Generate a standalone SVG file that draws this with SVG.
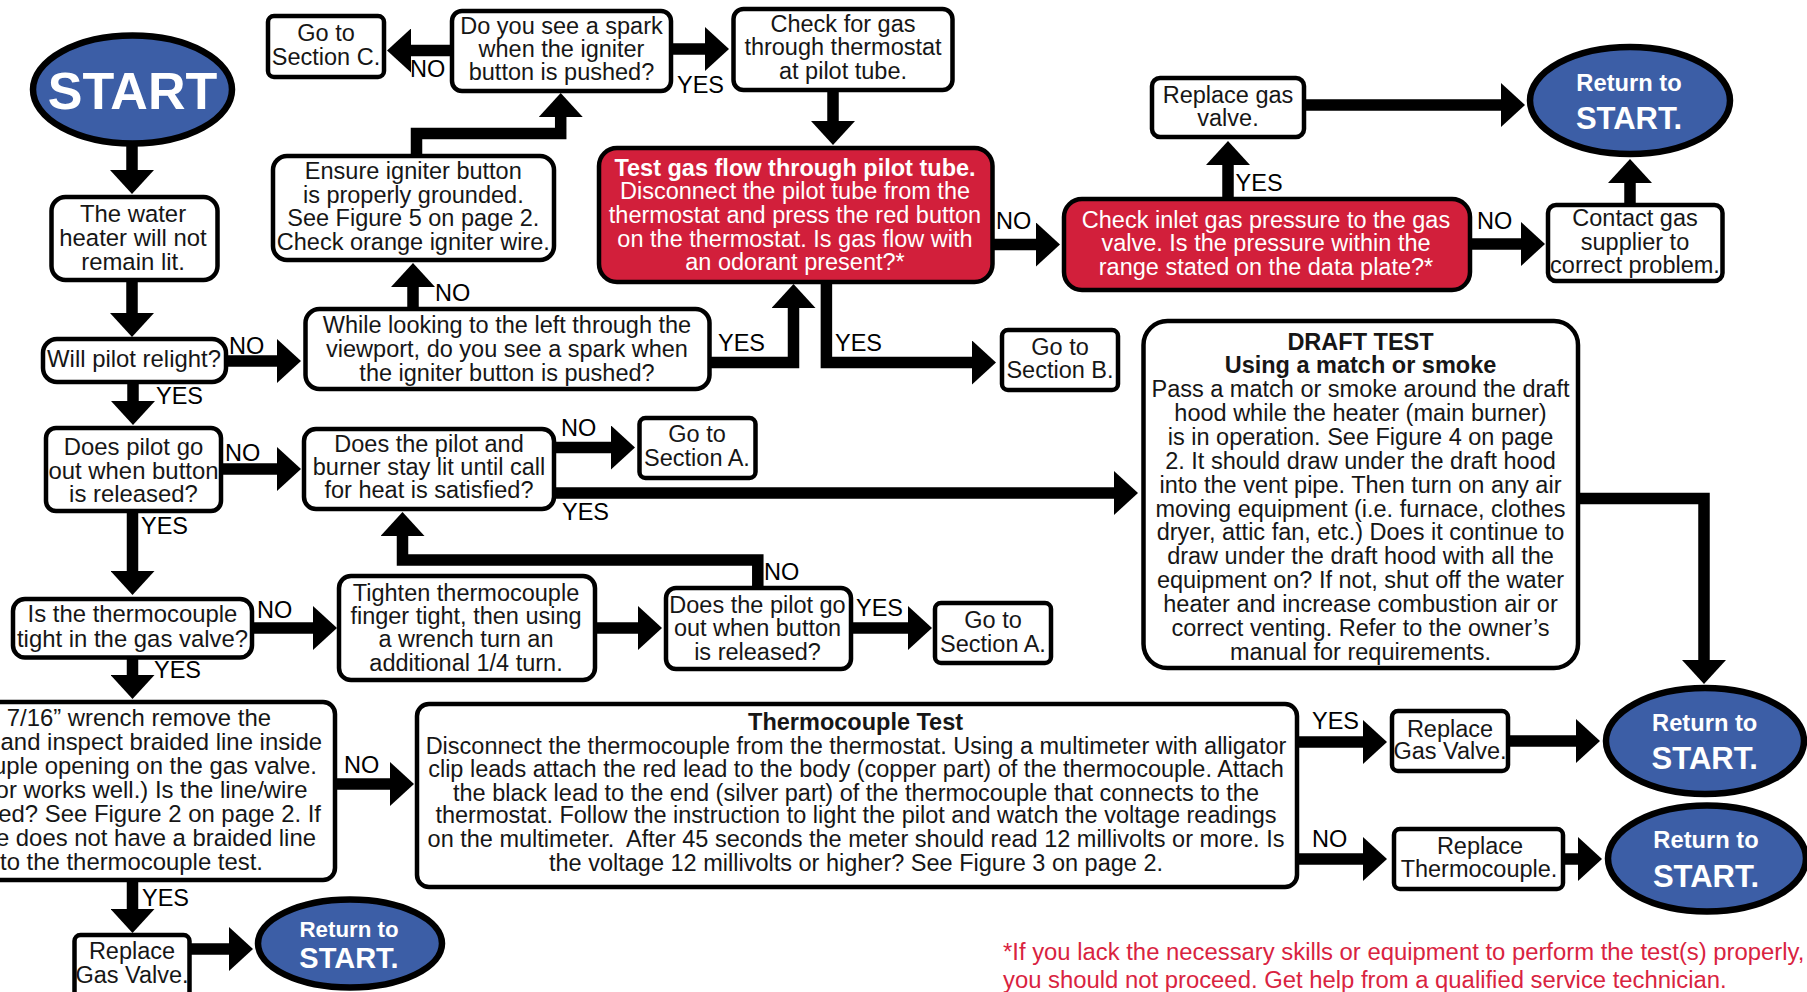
<svg xmlns="http://www.w3.org/2000/svg" width="1807" height="992" viewBox="0 0 1807 992">
<style>
text{font-family:"Liberation Sans",Arial,sans-serif;font-size:23.5px;fill:#161616;text-anchor:middle;white-space:pre;transform:translateY(.5px)}
.box{fill:#fff;stroke:#000;stroke-width:4.5}
.red{fill:#d21f3b;stroke:#000;stroke-width:4.5}
.oval{fill:#3c5ea6;stroke:#000;stroke-width:6.5}
.w{fill:#fff}
.bold{font-weight:bold}
.r{font-size:23.7px;font-weight:bold;fill:#fff}
.s{font-size:31px;font-weight:bold;fill:#fff}
.lab{text-anchor:start;fill:#000}
.end{text-anchor:end;font-size:23.9px}
.small{font-size:23.9px}
.note{text-anchor:start;fill:#d9233f;font-size:23.85px;transform:translateY(2px)}
.c path{fill:none;stroke:#000;stroke-width:11.5;stroke-linejoin:miter;marker-end:url(#a)}
</style>
<defs>
<marker id="a" markerUnits="userSpaceOnUse" viewBox="0 0 24 44" refX="1" refY="22" markerWidth="24" markerHeight="44" orient="auto"><path d="M0 0L24 22L0 44Z" fill="#000"/></marker>
</defs>
<rect width="1807" height="992" fill="#fff"/>
<g id="connectors" class="c">
<path d="M132 146V171"/>
<path d="M132 282V314"/>
<path d="M228 361H278"/>
<path d="M133 384V402"/>
<path d="M223 469H278"/>
<path d="M132.500 513V572"/>
<path d="M253 628H314"/>
<path d="M132.500 659V676"/>
<path d="M337 784H391"/>
<path d="M132.500 882V910"/>
<path d="M191 949H230"/>
<path d="M413 307V286"/>
<path d="M416.500 154V133.500H560.700V116"/>
<path d="M451 50.500H410"/>
<path d="M673 49H706"/>
<path d="M833 92V122"/>
<path d="M711 362.500H793.500V307"/>
<path d="M826.400 284V362.500H973"/>
<path d="M994 244.500H1037"/>
<path d="M1472 244H1522"/>
<path d="M1228 197V164"/>
<path d="M1306 105H1502"/>
<path d="M1630 203V182"/>
<path d="M555 447.500H612"/>
<path d="M555 493H1115"/>
<path d="M757.800 586V560H402.500V535"/>
<path d="M597 628H639"/>
<path d="M853 628H909"/>
<path d="M1580 498.500H1704V661"/>
<path d="M1299 742H1364"/>
<path d="M1299 859H1364"/>
<path d="M1510 741H1577"/>
<path d="M1565 859H1579"/>
</g>
<g id="connector-labels">
<text class="lab" x="229" y="353">NO</text>
<text class="lab" x="156" y="403">YES</text>
<text class="lab" x="225" y="460">NO</text>
<text class="lab" x="141" y="533">YES</text>
<text class="lab" x="257" y="617">NO</text>
<text class="lab" x="154" y="677">YES</text>
<text class="lab" x="344" y="772">NO</text>
<text class="lab" x="142" y="905">YES</text>
<text class="lab" x="435" y="300">NO</text>
<text class="lab" x="410" y="76">NO</text>
<text class="lab" x="677" y="92">YES</text>
<text class="lab" x="718" y="350">YES</text>
<text class="lab" x="835" y="350">YES</text>
<text class="lab" x="996" y="228">NO</text>
<text class="lab" x="1477" y="228">NO</text>
<text class="lab" x="1235.600" y="190">YES</text>
<text class="lab" x="561" y="435">NO</text>
<text class="lab" x="562" y="519">YES</text>
<text class="lab" x="764" y="579">NO</text>
<text class="lab" x="856" y="615">YES</text>
<text class="lab" x="1312" y="728">YES</text>
<text class="lab" x="1312" y="846">NO</text>
</g>
<g id="start"><ellipse class="oval" cx="132.500" cy="89.500" rx="99.500" ry="54"/><text class="bold w" x="132.500" y="108" style="font-size:52px">START</text></g>
<g id="water"><rect class="box" x="51.500" y="197" width="166" height="83" rx="14"/><text class="small"><tspan x="133" y="221">The water</tspan><tspan x="133" y="245">heater will not</tspan><tspan x="133" y="269">remain lit.</tspan></text></g>
<g id="relight"><rect class="box" x="43" y="339" width="183" height="43" rx="14"/><text class="small" x="134" y="366.700">Will pilot relight?</text></g>
<g id="pilot-out"><rect class="box" x="46" y="428" width="175" height="83" rx="10"/><text class="small"><tspan x="133.500" y="454">Does pilot go</tspan><tspan x="133.500" y="478">out when button</tspan><tspan x="133.500" y="501.700">is released?</tspan></text></g>
<g id="tight"><rect class="box" x="13" y="599" width="239" height="58.500" rx="12"/><text class="small"><tspan x="132.500" y="621.700">Is the thermocouple</tspan><tspan x="132.500" y="646">tight in the gas valve?</tspan></text></g>
<g id="braided"><rect class="box" x="-20" y="702" width="355" height="178" rx="12"/><text class="end"><tspan class="end" x="271" y="725">7/16” wrench remove the</tspan><tspan class="end" x="322" y="749">and inspect braided line inside</tspan><tspan class="end" x="317" y="773">uple opening on the gas valve.</tspan><tspan class="end" x="307.600" y="797">or works well.) Is the line/wire</tspan><tspan class="end" x="321" y="821">ed? See Figure 2 on page 2. If</tspan><tspan class="end" x="316" y="845">e does not have a braided line</tspan><tspan class="end" x="263" y="869">to the thermocouple test.</tspan></text></g>
<g id="replace-valve-1"><rect class="box" x="74.500" y="935" width="115" height="70" rx="6"/><text><tspan x="132" y="958">Replace</tspan><tspan x="132" y="982">Gas Valve.</tspan></text></g>
<g id="return-4"><ellipse class="oval" cx="350" cy="943.500" rx="92" ry="44"/><text class="r" x="349" y="936" style="font-size:22.300px">Return to</text><text class="s" x="349" y="967.700" style="font-size:29px">START.</text></g>
<g id="section-c"><rect class="box" x="268" y="16" width="116" height="61" rx="6"/><text><tspan x="326" y="40.700">Go to</tspan><tspan x="326" y="64">Section C.</tspan></text></g>
<g id="spark"><rect class="box" x="452" y="11" width="219" height="80" rx="10"/><text><tspan x="561.500" y="33">Do you see a spark</tspan><tspan x="561.500" y="56">when the igniter</tspan><tspan x="561.500" y="79">button is pushed?</tspan></text></g>
<g id="check-gas"><rect class="box" x="733.500" y="9" width="219" height="81" rx="10"/><text><tspan x="843" y="31">Check for gas</tspan><tspan x="843" y="54">through thermostat</tspan><tspan x="843" y="78">at pilot tube.</tspan></text></g>
<g id="ensure"><rect class="box" x="273" y="156" width="281" height="104" rx="14"/><text><tspan x="413.300" y="178">Ensure igniter button</tspan><tspan x="413.300" y="202.700">is properly grounded.</tspan><tspan x="413.300" y="225">See Figure 5 on page 2.</tspan><tspan x="413.300" y="249">Check orange igniter wire.</tspan></text></g>
<g id="looking"><rect class="box" x="305.500" y="309" width="404" height="80" rx="14"/><text><tspan x="507" y="332">While looking to the left through the</tspan><tspan x="507" y="356">viewport, do you see a spark when</tspan><tspan x="507" y="380">the igniter button is pushed?</tspan></text></g>
<g id="stay-lit"><rect class="box" x="304" y="429" width="250" height="80" rx="12"/><text><tspan x="429" y="451">Does the pilot and</tspan><tspan x="429" y="474">burner stay lit until call</tspan><tspan x="429" y="497">for heat is satisfied?</tspan></text></g>
<g id="tighten"><rect class="box" x="339" y="576" width="256" height="104" rx="12"/><text><tspan x="466" y="600">Tighten thermocouple</tspan><tspan x="466" y="623">finger tight, then using</tspan><tspan x="466" y="646.700">a wrench turn an</tspan><tspan x="466" y="670">additional 1/4 turn.</tspan></text></g>
<g id="pilot-out-2"><rect class="box" x="666" y="588" width="185" height="81" rx="10"/><text><tspan x="757.500" y="612">Does the pilot go</tspan><tspan x="757.500" y="635">out when button</tspan><tspan x="757.500" y="659">is released?</tspan></text></g>
<g id="section-a-1"><rect class="box" x="639.500" y="418" width="116" height="60" rx="6"/><text><tspan x="697" y="441.700">Go to</tspan><tspan x="697" y="465.700">Section A.</tspan></text></g>
<g id="section-a-2"><rect class="box" x="935" y="603" width="116" height="60" rx="6"/><text><tspan x="993" y="627.300">Go to</tspan><tspan x="993" y="651">Section A.</tspan></text></g>
<g id="section-b"><rect class="box" x="1002" y="330" width="116" height="60" rx="6"/><text><tspan x="1060" y="354">Go to</tspan><tspan x="1060" y="377">Section B.</tspan></text></g>
<g id="test-gas"><rect class="red" x="599" y="148" width="393.500" height="134" rx="18"/><text class="w"><tspan class="w bold" x="795" y="175">Test gas flow through pilot tube.</tspan><tspan class="w" x="795" y="198">Disconnect the pilot tube from the</tspan><tspan class="w" x="795" y="222">thermostat and press the red button</tspan><tspan class="w" x="795" y="246">on the thermostat. Is gas flow with</tspan><tspan class="w" x="795" y="269">an odorant present?*</tspan></text></g>
<g id="inlet"><rect class="red" x="1064" y="199" width="406" height="91" rx="18"/><text class="w"><tspan class="w" x="1266" y="227">Check inlet gas pressure to the gas</tspan><tspan class="w" x="1266" y="250.700">valve. Is the pressure within the</tspan><tspan class="w" x="1266" y="274">range stated on the data plate?*</tspan></text></g>
<g id="replace-gas"><rect class="box" x="1152" y="78" width="152" height="59" rx="8"/><text><tspan x="1228" y="102.700">Replace gas</tspan><tspan x="1228" y="125">valve.</tspan></text></g>
<g id="contact"><rect class="box" x="1548" y="205" width="174.500" height="76" rx="8"/><text><tspan x="1635" y="225">Contact gas</tspan><tspan x="1635" y="249">supplier to</tspan><tspan x="1635" y="272">correct problem.</tspan></text></g>
<g id="return-1"><ellipse class="oval" cx="1630" cy="100.500" rx="100" ry="53.500"/><text class="r" x="1629" y="90">Return to</text><text class="s" x="1629" y="128">START.</text></g>
<g id="draft"><rect class="box" x="1143.500" y="321" width="434.500" height="347" rx="24"/><text><tspan class="bold" x="1360.500" y="349">DRAFT TEST</tspan><tspan class="bold" x="1360.500" y="372.800">Using a match or smoke</tspan><tspan x="1360.500" y="396.600">Pass a match or smoke around the draft</tspan><tspan x="1360.500" y="420.500">hood while the heater (main burner)</tspan><tspan x="1360.500" y="444.400">is in operation. See Figure 4 on page</tspan><tspan x="1360.500" y="468.200">2. It should draw under the draft hood</tspan><tspan x="1360.500" y="492.100">into the vent pipe. Then turn on any air</tspan><tspan x="1360.500" y="516">moving equipment (i.e. furnace, clothes</tspan><tspan x="1360.500" y="539.800">dryer, attic fan, etc.) Does it continue to</tspan><tspan x="1360.500" y="563.700">draw under the draft hood with all the</tspan><tspan x="1360.500" y="587.600">equipment on? If not, shut off the water</tspan><tspan x="1360.500" y="611.500">heater and increase combustion air or</tspan><tspan x="1360.500" y="635.400">correct venting. Refer to the owner’s</tspan><tspan x="1360.500" y="659.300">manual for requirements.</tspan></text></g>
<g id="thermo-test"><rect class="box" x="417" y="704" width="880" height="183" rx="12"/><text><tspan class="bold" x="855.600" y="729">Thermocouple Test</tspan><tspan x="856" y="753">Disconnect the thermocouple from the thermostat. Using a multimeter with alligator</tspan><tspan x="856" y="776">clip leads attach the red lead to the body (copper part) of the thermocouple. Attach</tspan><tspan x="856" y="800">the black lead to the end (silver part) of the thermocouple that connects to the</tspan><tspan x="856" y="822.700">thermostat. Follow the instruction to light the pilot and watch the voltage readings</tspan><tspan x="856" y="846.700">on the multimeter.  After 45 seconds the meter should read 12 millivolts or more. Is</tspan><tspan x="856" y="870">the voltage 12 millivolts or higher? See Figure 3 on page 2.</tspan></text></g>
<g id="replace-valve-2"><rect class="box" x="1392" y="711" width="116" height="60" rx="6"/><text><tspan x="1450" y="736">Replace</tspan><tspan x="1450" y="758.700">Gas Valve.</tspan></text></g>
<g id="replace-thermo"><rect class="box" x="1394" y="829" width="169" height="60" rx="6"/><text><tspan x="1480" y="853">Replace</tspan><tspan x="1479" y="876.700">Thermocouple.</tspan></text></g>
<g id="return-2"><ellipse class="oval" cx="1705" cy="741" rx="99" ry="53"/><text class="r" x="1704.700" y="730.700">Return to</text><text class="s" x="1704.700" y="768">START.</text></g>
<g id="return-3"><ellipse class="oval" cx="1707" cy="858.500" rx="99" ry="53"/><text class="r" x="1706" y="847.700">Return to</text><text class="s" x="1706" y="886.700">START.</text></g>
<g id="note"><text class="note" x="1003" y="958">*If you lack the necessary skills or equipment to perform the test(s) properly,</text><text class="note" x="1003" y="986">you should not proceed. Get help from a qualified service technician.</text></g>
</svg>
